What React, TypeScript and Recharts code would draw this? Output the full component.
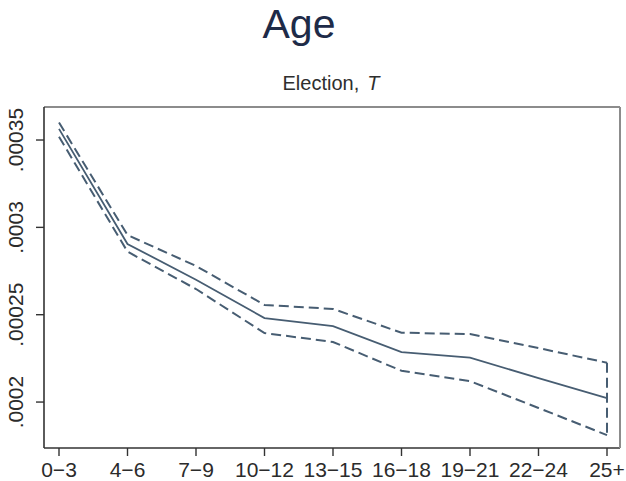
import { LineChart, Line, XAxis, YAxis, ReferenceLine } from "recharts";

const ageGroups = ["0−3", "4−6", "7−9", "10−12", "13−15", "16−18", "19−21", "22−24", "25+"];
const estimate = [0.0003564, 0.0002905, 0.000270, 0.0002481, 0.0002435, 0.0002286, 0.0002254, 0.0002137, 0.0002023];
const upperCI = [0.00036, 0.0002956, 0.0002779, 0.0002556, 0.0002533, 0.0002397, 0.0002389, 0.0002309, 0.0002225];
const lowerCI = [0.0003519, 0.0002861, 0.0002647, 0.0002395, 0.0002344, 0.0002179, 0.000212, 0.0001966, 0.0001811];
const yTicks = [0.0002, 0.00025, 0.0003, 0.00035];
const yTickLabels = [".0002", ".00025", ".0003", ".00035"];
const yDomain = [0.0001737, 0.0003689];

const data = ageGroups.map((age, i) => ({
    age,
    est: estimate[i],
    hi: upperCI[i],
    lo: lowerCI[i],
}));

const LINE = "#475d72";
const FONT = "'Liberation Sans', Arial, Helvetica, sans-serif";

const YTick = (props: any) => {
    const { x, y, payload } = props;
    const idx = yTicks.indexOf(payload.value);
    const bx = x - 11;
    return (
        <text x={bx} y={y} transform={`rotate(-90, ${bx}, ${y})`} textAnchor="middle"
            fontSize={21} fontFamily={FONT} fill="#2b2b2b">
            {idx >= 0 ? yTickLabels[idx] : payload.value}
        </text>
    );
};

const XTick = (props: any) => {
    const { x, y, payload } = props;
    return (
        <text x={x} y={y + 19} textAnchor="middle" fontSize={21} fontFamily={FONT} fill="#2b2b2b">
            {payload.value}
        </text>
    );
};

export default function App() {
    const last = data.length - 1;
    return (
        <div style={{ position: "absolute", left: 0, top: 0, width: 626, height: 481, background: "#fff" }}>
            <LineChart width={626} height={481} data={data} margin={{ top: 105, right: 4, left: 0, bottom: 0 }}>
                <XAxis dataKey="age" height={33} padding={{ left: 15, right: 13 }} interval={0}
                    tickSize={8} tick={<XTick />} axisLine={{ stroke: "#333", strokeWidth: 1.6 }}
                    tickLine={{ stroke: "#333", strokeWidth: 1.4 }} />
                <XAxis xAxisId="top" dataKey="age" orientation="top" height={2} padding={{ left: 15, right: 13 }}
                    tick={false} tickLine={false} axisLine={{ stroke: "#8c8c8c", strokeWidth: 2 }} />
                <YAxis width={44} domain={yDomain} ticks={yTicks} tickSize={8} tick={<YTick />}
                    axisLine={{ stroke: "#333", strokeWidth: 1.6 }} tickLine={{ stroke: "#333", strokeWidth: 1.4 }} />
                <YAxis yAxisId="right" orientation="right" width={2} domain={yDomain}
                    tick={false} tickLine={false} axisLine={{ stroke: "#8c8c8c", strokeWidth: 2 }} />
                <Line dataKey="hi" xAxisId="top" stroke={LINE} strokeWidth={2} strokeDasharray="10 5" dot={false} isAnimationActive={false} />
                <Line dataKey="lo" yAxisId="right" stroke={LINE} strokeWidth={2} strokeDasharray="10 5" dot={false} isAnimationActive={false} />
                <Line dataKey="est" stroke={LINE} strokeWidth={1.8} dot={false} isAnimationActive={false} />
                <ReferenceLine
                    segment={[{ x: ageGroups[last], y: upperCI[last] }, { x: ageGroups[last], y: lowerCI[last] }]}
                    stroke={LINE} strokeWidth={2} strokeDasharray="10 5" ifOverflow="visible" />
            </LineChart>
            <svg width={626} height={481} style={{ position: "absolute", left: 0, top: 0, pointerEvents: "none" }}>
                <text x={299} y={38} textAnchor="middle" fontSize={41} fontFamily={FONT} fill="#1e2b48">Age</text>
                <text x={331} y={90} textAnchor="middle" fontSize={20} fontFamily={FONT} fill="#2e2e2e">
                    Election,<tspan dx={8} fontStyle="italic">T</tspan>
                </text>
            </svg>
        </div>
    );
}
